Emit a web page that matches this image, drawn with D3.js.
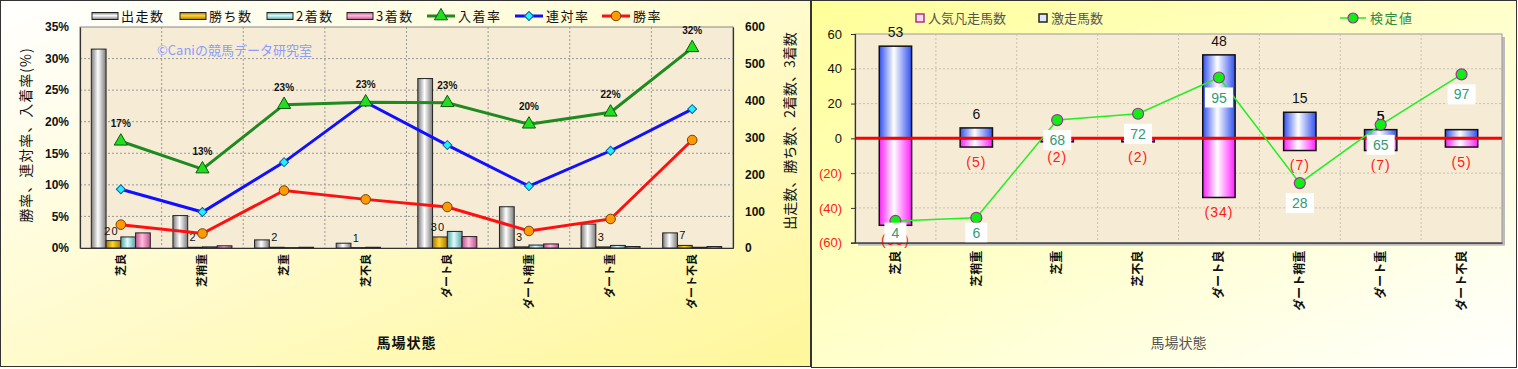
<!DOCTYPE html>
<html>
<head>
<meta charset="utf-8">
<script src="https://cdn.jsdelivr.net/npm/d3@7"></script>
<style>
  body { margin: 0; background: #fff; }
  text { font-family: "Liberation Sans", Arial, "Noto Sans CJK JP", sans-serif; }
  .jp { font-family: "Noto Sans CJK JP", sans-serif; }
</style>
</head>
<body>
<div id="chart"></div>
<script>
// data
var categories = ["芝良", "芝稍重", "芝重", "芝不良", "ダート良", "ダート稍重", "ダート重", "ダート不良"];
var starts  = [540, 88, 22, 13, 460, 112, 65, 41];
var wins    = [20, 2, 2, 1, 30, 3, 3, 7];
var seconds = [30, 3, 1, 2, 45, 8, 7, 2];
var thirds  = [41, 6, 2, 0, 31, 11, 4, 4];
var winRate    = [3.7, 2.3, 9.1, 7.7, 6.5, 2.7, 4.6, 17.1];
var rentaiRate = [9.3, 5.7, 13.6, 23.1, 16.3, 9.8, 15.4, 22.0];
var placeRate  = [16.9, 12.5, 22.7, 23.1, 23.0, 19.6, 21.5, 31.7];
var rateTicks = [0, 5, 10, 15, 20, 25, 30, 35];
var countTicks = [0, 100, 200, 300, 400, 500, 600];

var surgeCount = [53, 6, 0, 0, 48, 15, 5, 5];
var flopCount  = [50, 5, 2, 2, 34, 7, 7, 5];
var testValue  = [4, 6, 68, 72, 95, 28, 65, 97];
var diffTicks = [-60, -40, -20, 0, 20, 40, 60];

var svg = d3.select("#chart").append("svg")
    .attr("width", 1518)
    .attr("height", 369);

var defs = svg.append("defs");

function gradient(id, edge, mid, vertical) {
    var g = defs.append("linearGradient").attr("id", id)
        .attr("x1", 0).attr("y1", 0)
        .attr("x2", vertical ? 0 : 1).attr("y2", vertical ? 1 : 0);
    g.append("stop").attr("offset", "0%").attr("stop-color", edge);
    g.append("stop").attr("offset", "45%").attr("stop-color", mid);
    g.append("stop").attr("offset", "100%").attr("stop-color", edge);
}
var barSeries = [
    { key: "出走数", values: starts,  edge: "#7a7a7a", mid: "#ffffff" },
    { key: "勝ち数", values: wins,    edge: "#a87800", mid: "#ffd633" },
    { key: "2着数",  values: seconds, edge: "#5f9ea0", mid: "#d8ffff" },
    { key: "3着数",  values: thirds,  edge: "#c0508a", mid: "#ffbde0" }
];
barSeries.forEach(function(s, i) {
    gradient("bh" + i, s.edge, s.mid, false);
    gradient("bv" + i, s.edge, s.mid, true);
});
gradient("blue", "#3050f0", "#ffffff", false);
gradient("pink", "#ff20ff", "#ffffff", false);

var lg = defs.append("linearGradient").attr("id", "panelL")
    .attr("x1", 0).attr("y1", 0).attr("x2", 1).attr("y2", 1);
lg.append("stop").attr("offset", "0%").attr("stop-color", "#ffffff");
lg.append("stop").attr("offset", "100%").attr("stop-color", "#fff79a");
var rg = defs.append("linearGradient").attr("id", "panelR")
    .attr("x1", 0).attr("y1", 0).attr("x2", 1).attr("y2", 1);
rg.append("stop").attr("offset", "0%").attr("stop-color", "#ffff99");
rg.append("stop").attr("offset", "100%").attr("stop-color", "#ffffff");

// ---------------- left chart ----------------
var L = { left: 80, right: 733, top: 27, bottom: 248 };

svg.append("rect")
    .attr("x", 0.5).attr("y", 0.5).attr("width", 810).attr("height", 366)
    .attr("fill", "url(#panelL)").attr("stroke", "#333");

var left = svg.append("g");

left.append("rect")
    .attr("x", L.left).attr("y", L.top)
    .attr("width", L.right - L.left).attr("height", L.bottom - L.top)
    .attr("fill", "#f6ecd5").attr("stroke", "#888");

var x = d3.scaleBand().domain(categories).range([L.left, L.right]);
var yRate = d3.scaleLinear().domain([0, 35]).range([L.bottom, L.top]);
var yCount = d3.scaleLinear().domain([0, 600]).range([L.bottom, L.top]);
var groupW = 59;
var xInner = d3.scaleBand().domain(barSeries.map(function(s) { return s.key; })).range([0, groupW]);

// grid
left.append("g").selectAll("line.h").data(rateTicks.slice(1, -1)).enter().append("line")
    .attr("x1", L.left).attr("x2", L.right)
    .attr("y1", function(d) { return yRate(d); }).attr("y2", function(d) { return yRate(d); })
    .attr("stroke", "#999").attr("stroke-dasharray", "2,2");
left.append("g").selectAll("line.v").data(categories.slice(1)).enter().append("line")
    .attr("x1", function(d) { return x(d); }).attr("x2", function(d) { return x(d); })
    .attr("y1", L.top).attr("y2", L.bottom)
    .attr("stroke", "#999").attr("stroke-dasharray", "2,2");

// watermark
left.append("text").attr("class", "jp")
    .attr("x", 157).attr("y", 55)
    .attr("fill", "#8b9bff").style("font-size", "13px")
    .text("©Caniの競馬データ研究室");

// bars
barSeries.forEach(function(s, si) {
    left.append("g").selectAll("rect").data(s.values).enter().append("rect")
        .attr("x", function(d, i) { return x(categories[i]) + (x.bandwidth() - groupW) / 2 + xInner(s.key); })
        .attr("y", function(d) { return yCount(d); })
        .attr("width", xInner.bandwidth())
        .attr("height", function(d) { return L.bottom - yCount(d); })
        .attr("fill", "url(#bh" + si + ")")
        .attr("stroke", "#222").attr("stroke-width", 1);
});

// win count labels
left.append("g").selectAll("text").data(wins).enter().append("text")
    .attr("x", function(d, i) { return x(categories[i]) + (x.bandwidth() - groupW) / 2 + xInner("勝ち数") + xInner.bandwidth() / 2 - 2; })
    .attr("y", function(d) { return yCount(d) - 6; })
    .attr("text-anchor", "middle")
    .style("font-size", "11px").style("letter-spacing", "1px")
    .attr("fill", "#111")
    .text(function(d) { return d; });

// lines
var lineSeries = [
    { key: "入着率", values: placeRate, color: "#1f8a1f", marker: "tri", fill: "#22dd22", stroke: "#0a5a0a" },
    { key: "連対率", values: rentaiRate, color: "#1010ff", marker: "dia", fill: "#22f0ff", stroke: "#1060a0" },
    { key: "勝率",   values: winRate,   color: "#ff1010", marker: "cir", fill: "#ff9900", stroke: "#704010" }
];
var cx = function(i) { return x(categories[i]) + x.bandwidth() / 2; };

function drawMarker(g, type, fill, stroke) {
    if (type === "tri") {
        g.append("path").attr("d", d3.symbol().type(d3.symbolTriangle).size(75))
            .attr("fill", fill).attr("stroke", stroke).attr("stroke-width", 1);
    } else if (type === "dia") {
        g.append("path").attr("d", d3.symbol().type(d3.symbolSquare).size(40))
            .attr("transform", "rotate(45)")
            .attr("fill", fill).attr("stroke", stroke).attr("stroke-width", 1);
    } else {
        g.append("circle").attr("r", 4.8)
            .attr("fill", fill).attr("stroke", stroke).attr("stroke-width", 1);
    }
}

lineSeries.slice().reverse().forEach(function(s) {
    var line = d3.line()
        .x(function(d, i) { return cx(i); })
        .y(function(d) { return yRate(d); });
    left.append("path").datum(s.values)
        .attr("d", line)
        .attr("fill", "none").attr("stroke", s.color).attr("stroke-width", 3);
});
lineSeries.slice().reverse().forEach(function(s) {
    s.values.forEach(function(v, i) {
        var g = left.append("g").attr("transform", "translate(" + cx(i) + "," + yRate(v) + ")");
        drawMarker(g, s.marker, s.fill, s.stroke);
    });
});

// place rate labels
left.append("g").selectAll("text").data(placeRate).enter().append("text")
    .attr("x", function(d, i) { return cx(i); })
    .attr("y", function(d) { return yRate(d) - 14; })
    .attr("text-anchor", "middle")
    .style("font-size", "10px").style("font-weight", "bold")
    .attr("fill", "#111")
    .text(function(d) { return Math.round(d) + "%"; });

// axes
var axL = left.append("g").attr("transform", "translate(" + L.left + ",0)")
    .call(d3.axisLeft(yRate).tickValues(rateTicks).tickSize(0).tickPadding(11)
        .tickFormat(function(d) { return d + "%"; }));
var axR = left.append("g").attr("transform", "translate(" + L.right + ",0)")
    .call(d3.axisRight(yCount).tickValues(countTicks).tickSize(0).tickPadding(12));
var axB = left.append("g").attr("transform", "translate(0," + L.bottom + ")")
    .call(d3.axisBottom(x).tickSize(0));
[axL, axR, axB].forEach(function(a) {
    a.select(".domain").attr("stroke", "#333").attr("stroke-width", 1.2);
});
axL.selectAll("text").style("font-size", "12px").style("font-weight", "bold").attr("fill", "#111");
axR.selectAll("text").style("font-size", "12px").style("font-weight", "bold").attr("fill", "#111");
axB.selectAll("text").attr("class", "jp")
    .style("font-size", "11px").style("font-weight", "bold").attr("fill", "#111")
    .attr("transform", "rotate(-90)")
    .attr("text-anchor", "end")
    .attr("x", -6).attr("y", 0).attr("dy", "0.35em");

// titles
left.append("text").attr("class", "jp")
    .attr("transform", "translate(31,135) rotate(-90)")
    .attr("text-anchor", "middle").attr("fill", "#111")
    .style("font-size", "14px").style("letter-spacing", "1px")
    .text("勝率、連対率、入着率(%)");
left.append("text").attr("class", "jp")
    .attr("transform", "translate(795,131) rotate(-90)")
    .attr("text-anchor", "middle").attr("fill", "#111")
    .style("font-size", "14px")
    .text("出走数、勝ち数、2着数、3着数");
left.append("text").attr("class", "jp")
    .attr("x", (L.left + L.right) / 2).attr("y", 348)
    .attr("text-anchor", "middle").attr("fill", "#111")
    .style("font-size", "14px").style("font-weight", "bold").style("letter-spacing", "1px")
    .text("馬場状態");

// legend
var legBarX = [92, 180, 267, 347];
barSeries.forEach(function(s, i) {
    var g = left.append("g").attr("transform", "translate(" + legBarX[i] + ",16)");
    g.append("rect").attr("x", 0).attr("y", -3.5).attr("width", 26).attr("height", 7)
        .attr("fill", "url(#bv" + i + ")").attr("stroke", "#222");
    g.append("text").attr("class", "jp").attr("x", 29).attr("y", 0).attr("dy", "0.36em")
        .style("font-size", "13px").style("letter-spacing", "1.5px").attr("fill", "#111")
        .text(s.key);
});
var legLineX = [427, 515, 602];
lineSeries.forEach(function(s, i) {
    var g = left.append("g").attr("transform", "translate(" + legLineX[i] + ",16)");
    g.append("line").attr("x1", 0).attr("x2", 28).attr("stroke", s.color).attr("stroke-width", 3);
    var m = g.append("g").attr("transform", "translate(14,0)");
    drawMarker(m, s.marker, s.fill, s.stroke);
    g.append("text").attr("class", "jp").attr("x", 31).attr("y", 0).attr("dy", "0.36em")
        .style("font-size", "13px").style("letter-spacing", "1.5px").attr("fill", "#111")
        .text(s.key);
});

// ---------------- right chart ----------------
var R = { left: 855, right: 1502, top: 34, bottom: 242.7 };

svg.append("rect")
    .attr("x", 811.5).attr("y", 0.5).attr("width", 1005 - 300).attr("height", 367)
    .attr("fill", "url(#panelR)").attr("stroke", "#333");

var right = svg.append("g");

right.append("rect")
    .attr("x", R.left + 3).attr("y", R.top + 3)
    .attr("width", R.right - R.left).attr("height", R.bottom - R.top)
    .attr("fill", "#bbb");
right.append("rect")
    .attr("x", R.left).attr("y", R.top)
    .attr("width", R.right - R.left).attr("height", R.bottom - R.top)
    .attr("fill", "#f6ecd5").attr("stroke", "#999");

var x2 = d3.scaleBand().domain(categories).range([R.left, R.right]);
var yDiff = d3.scaleLinear().domain([-60, 60]).range([R.bottom, R.top]);
var yTest = d3.scaleLinear().domain([-9.8, 122.6]).range([R.bottom, R.top]);
var cx2 = function(i) { return x2(categories[i]) + x2.bandwidth() / 2; };
var barW = x2.bandwidth() * 0.4;

right.append("g").selectAll("line").data(diffTicks.slice(1, -1)).enter().append("line")
    .attr("x1", R.left).attr("x2", R.right)
    .attr("y1", function(d) { return yDiff(d); }).attr("y2", function(d) { return yDiff(d); })
    .attr("stroke", "#c8c0b0").attr("stroke-dasharray", "2,2");
right.append("g").selectAll("line").data(categories.slice(1)).enter().append("line")
    .attr("x1", function(d) { return x2(d); }).attr("x2", function(d) { return x2(d); })
    .attr("y1", R.top).attr("y2", R.bottom)
    .attr("stroke", "#c8c0b0").attr("stroke-dasharray", "2,2");

// bars
right.append("g").selectAll("rect").data(flopCount).enter().append("rect")
    .attr("x", function(d, i) { return cx2(i) - barW / 2; })
    .attr("y", yDiff(0))
    .attr("width", barW)
    .attr("height", function(d) { return yDiff(-d) - yDiff(0); })
    .attr("fill", "url(#pink)").attr("stroke", "#111").attr("stroke-width", 1.5);
right.append("g").selectAll("rect").data(surgeCount).enter().append("rect")
    .attr("x", function(d, i) { return cx2(i) - barW / 2; })
    .attr("y", function(d) { return yDiff(d); })
    .attr("width", barW)
    .attr("height", function(d) { return yDiff(0) - yDiff(d); })
    .attr("fill", "url(#blue)").attr("stroke", "#111").attr("stroke-width", 1.5);

// bar labels
right.append("g").selectAll("text").data(surgeCount).enter().append("text")
    .filter(function(d) { return d > 0; })
    .attr("x", function(d) { return cx2(surgeCount.indexOf(d)); })
    .attr("y", function(d) { return yDiff(d) - 9; })
    .attr("text-anchor", "middle").attr("fill", "#111")
    .style("font-size", "14px")
    .text(function(d) { return d; });
right.selectAll("text").filter(function() { return false; });
right.append("g").selectAll("text").data(flopCount).enter().append("text")
    .attr("x", function(d, i) { return cx2(i); })
    .attr("y", function(d) { return yDiff(-d) + 15; })
    .attr("dy", "0.35em")
    .attr("text-anchor", "middle").attr("fill", "#ff1a1a")
    .style("font-size", "14px").style("letter-spacing", "1px")
    .text(function(d) { return "(" + d + ")"; });

// zero line
right.append("line")
    .attr("x1", R.left).attr("x2", R.right)
    .attr("y1", yDiff(0)).attr("y2", yDiff(0))
    .attr("stroke", "#ff0000").attr("stroke-width", 3);

// test value line
right.append("path").datum(testValue)
    .attr("d", d3.line().x(function(d, i) { return cx2(i); }).y(function(d) { return yTest(d); }))
    .attr("fill", "none").attr("stroke", "#22ee22").attr("stroke-width", 1.5);
right.append("g").selectAll("circle").data(testValue).enter().append("circle")
    .attr("cx", function(d, i) { return cx2(i); })
    .attr("cy", function(d) { return yTest(d); })
    .attr("r", 5.5)
    .attr("fill", "#11ee11").attr("stroke", "#993399").attr("stroke-width", 1.2);

var tl = right.append("g").selectAll("g").data(testValue).enter().append("g")
    .attr("transform", function(d, i) {
        var y = Math.min(yTest(d) + 20, R.bottom - 10);
        return "translate(" + cx2(i) + "," + y + ")";
    });
tl.append("rect")
    .attr("x", function(d) { return d < 10 ? -11 : -14; })
    .attr("y", -10)
    .attr("width", function(d) { return d < 10 ? 22 : 28; })
    .attr("height", 20)
    .attr("fill", "#ffffff");
tl.append("text")
    .attr("text-anchor", "middle").attr("dy", "0.36em")
    .attr("fill", "#339977").style("font-size", "14px")
    .text(function(d) { return d; });

// axes
var ax2L = right.append("g").attr("transform", "translate(" + R.left + ",0)")
    .call(d3.axisLeft(yDiff).tickValues(diffTicks).tickSize(4).tickPadding(9)
        .tickFormat(function(d) { return d < 0 ? "(" + (-d) + ")" : d; }));
ax2L.select(".domain").attr("stroke", "#333").attr("stroke-width", 1.2);
ax2L.selectAll(".tick line").attr("stroke", "#333");
ax2L.selectAll("text").style("font-size", "13px")
    .attr("fill", function(d) { return d < 0 ? "#ff1a1a" : "#111"; });

var ax2B = right.append("g").attr("transform", "translate(0," + R.bottom + ")")
    .call(d3.axisBottom(x2).tickSize(0));
ax2B.select(".domain").attr("stroke", "#333").attr("stroke-width", 1.2);
ax2B.selectAll("text").attr("class", "jp")
    .style("font-size", "12px").style("font-weight", "bold").attr("fill", "#111")
    .attr("transform", "rotate(-90)")
    .attr("text-anchor", "end")
    .attr("x", -8).attr("y", 0).attr("dy", "0.35em");

right.append("text").attr("class", "jp")
    .attr("x", (R.left + R.right) / 2).attr("y", 348)
    .attr("text-anchor", "middle").attr("fill", "#555")
    .style("font-size", "14px")
    .text("馬場状態");

// legend
var leg2 = [
    { label: "人気凡走馬数", x: 916, stroke: "#b0308a", fill: "#ffd8f0" },
    { label: "激走馬数", x: 1039, stroke: "#222", fill: "#dfe6ff" }
];
leg2.forEach(function(s) {
    var g = right.append("g").attr("transform", "translate(" + s.x + ",18)");
    g.append("rect").attr("x", 0).attr("y", -4).attr("width", 8).attr("height", 8)
        .attr("fill", s.fill).attr("stroke", s.stroke).attr("stroke-width", 1.5);
    g.append("text").attr("class", "jp").attr("x", 12).attr("y", 0).attr("dy", "0.36em")
        .style("font-size", "13px").attr("fill", "#555")
        .text(s.label);
});
var lg3 = right.append("g").attr("transform", "translate(1340,18)");
lg3.append("line").attr("x1", 0).attr("x2", 26).attr("stroke", "#22ee22").attr("stroke-width", 1.5);
lg3.append("circle").attr("cx", 13).attr("r", 5)
    .attr("fill", "#11ee11").attr("stroke", "#993399").attr("stroke-width", 1.2);
lg3.append("text").attr("class", "jp").attr("x", 30).attr("y", 0).attr("dy", "0.36em")
    .style("font-size", "13px").style("letter-spacing", "1.5px").attr("fill", "#2e8b3e")
    .text("検定値");
</script>
</body>
</html>
